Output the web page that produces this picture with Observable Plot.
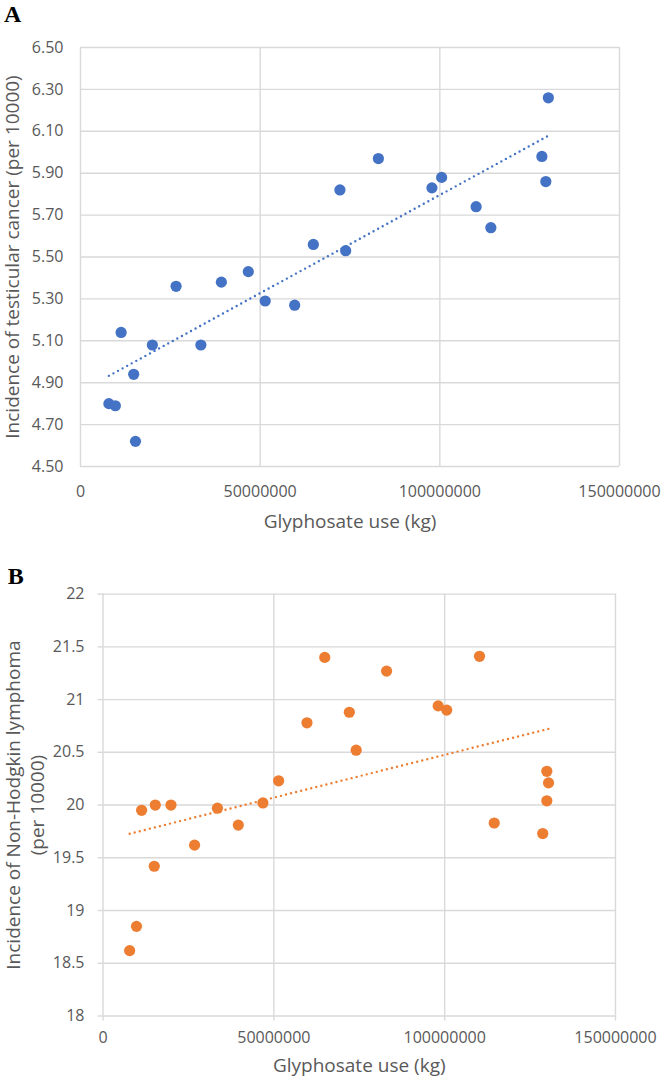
<!DOCTYPE html>
<html>
<head>
<meta charset="utf-8">
<script src="https://cdn.jsdelivr.net/npm/d3@7"></script>
<script src="https://cdn.jsdelivr.net/npm/@observablehq/plot@0.6"></script>
<style>
  body { margin: 0; background: #fff; }
  #chart { width: 664px; }
  #chart svg { display: block; }
</style>
</head>
<body>
<div id="chart"></div>
<script>
// Panel A: glyphosate use (kg) vs incidence of testicular cancer (per 10000)
const glyphosateA = [7.9e6, 9.7e6, 11.3e6, 14.8e6, 15.3e6, 20.0e6, 26.6e6, 33.5e6, 39.2e6, 46.7e6, 51.4e6, 59.6e6,
  64.8e6, 72.2e6, 73.8e6, 82.9e6, 97.8e6, 100.5e6, 110.1e6, 114.2e6, 128.4e6, 129.5e6, 130.2e6];
const testicular = [4.80, 4.79, 5.14, 4.94, 4.62, 5.08, 5.36, 5.08, 5.38, 5.43, 5.29, 5.27,
  5.56, 5.82, 5.53, 5.97, 5.83, 5.88, 5.74, 5.64, 5.98, 5.86, 6.26];

// Panel B: glyphosate use (kg) vs incidence of Non-Hodgkin lymphoma (per 10000)
const glyphosateB = [7.8e6, 9.8e6, 11.3e6, 15.0e6, 15.3e6, 19.9e6, 26.8e6, 33.5e6, 39.6e6, 46.8e6, 51.4e6, 59.7e6,
  64.9e6, 72.1e6, 74.1e6, 83.0e6, 98.1e6, 100.6e6, 110.2e6, 114.5e6, 128.7e6, 129.9e6, 129.9e6, 130.4e6];
const lymphoma = [18.62, 18.85, 19.95, 19.42, 20.00, 20.00, 19.62, 19.97, 19.81, 20.02, 20.23, 20.78,
  21.40, 20.88, 20.52, 21.27, 20.94, 20.90, 21.41, 19.83, 19.73, 20.04, 20.32, 20.21];

// Tick values
const xTicks = [0, 50000000, 100000000, 150000000];
const yTicksA = [4.5, 4.7, 4.9, 5.1, 5.3, 5.5, 5.7, 5.9, 6.1, 6.3, 6.5];
const yTicksB = [18, 18.5, 19, 19.5, 20, 20.5, 21, 21.5, 22];

// Labels
const panelLabels = ["A", "B"];
const xTitle = "Glyphosate use (kg)";
const yTitleA = "Incidence of testicular cancer (per 10000)";
const yTitleB = "Incidence of Non-Hodgkin lymphoma\n(per 10000)";

const dataA = glyphosateA.map((x, i) => ({x, y: testicular[i]}));
const dataB = glyphosateB.map((x, i) => ({x, y: lymphoma[i]}));

const font = "'Open Sans', 'DejaVu Sans', sans-serif";
const serif = "'Liberation Serif', 'DejaVu Serif', serif";
const textGray = "#595959";
const gridGray = "#d9d9d9";
const blue = "#4472C4";
const orange = "#ED7D31";
const fmtX = d3.format("d");

const plotA = Plot.plot({
  width: 664,
  height: 535,
  marginTop: 47,
  marginRight: 45,
  marginBottom: 69,
  marginLeft: 80,
  style: {fontFamily: font, background: "#fff"},
  x: {domain: [0, 150000000]},
  y: {domain: [4.5, 6.5]},
  marks: [
    Plot.gridX(xTicks, {stroke: gridGray, strokeOpacity: 1, strokeWidth: 1.4}),
    Plot.gridY(yTicksA, {stroke: gridGray, strokeOpacity: 1, strokeWidth: 1.4}),
    Plot.axisX(xTicks, {tickSize: 0, tickPadding: 19, tickFormat: fmtX, fill: textGray, fontSize: 16, label: null}),
    Plot.axisY(yTicksA, {tickSize: 0, tickPadding: 17, tickFormat: d3.format(".2f"), fill: textGray, fontSize: 16, label: null}),
    Plot.linearRegressionY(dataA, {x: "x", y: "y", ci: 0, stroke: blue, strokeWidth: 2.4,
      strokeDasharray: "0 5.2", strokeLinecap: "round"}),
    Plot.dot(dataA, {x: "x", y: "y", r: 5.6, fill: blue}),
    Plot.text([xTitle], {frameAnchor: "bottom", lineAnchor: "middle", dy: 55, fontSize: 19, fill: textGray}),
    Plot.text([yTitleA], {frameAnchor: "left", rotate: -90, textAnchor: "middle", lineAnchor: "middle",
      dx: -67.5, fontSize: 19, fill: textGray}),
    Plot.text([panelLabels[0]], {frameAnchor: "top-left", textAnchor: "start", lineAnchor: "bottom",
      dx: -76.5, dy: -26, fontSize: 24, fontWeight: "bold", fontFamily: serif, fill: "#000"})
  ]
});

const plotB = Plot.plot({
  width: 664,
  height: 544,
  marginTop: 58.6,
  marginRight: 49,
  marginBottom: 63.5,
  marginLeft: 102.5,
  style: {fontFamily: font, background: "#fff"},
  x: {domain: [0, 150000000]},
  y: {domain: [18, 22]},
  marks: [
    Plot.gridX(xTicks, {stroke: gridGray, strokeOpacity: 1, strokeWidth: 1.4}),
    Plot.gridY(yTicksB, {stroke: gridGray, strokeOpacity: 1, strokeWidth: 1.4}),
    Plot.axisX(xTicks, {tickSize: 5, tickPadding: 11, tickFormat: fmtX, stroke: gridGray, strokeWidth: 1.4,
      fill: textGray, fontSize: 16, label: null}),
    Plot.axisY(yTicksB, {tickSize: 5, tickPadding: 13.5, tickFormat: d => String(d), stroke: gridGray, strokeWidth: 1.4,
      fill: textGray, fontSize: 16, label: null}),
    Plot.linearRegressionY(dataB, {x: "x", y: "y", ci: 0, stroke: orange, strokeWidth: 2.4,
      strokeDasharray: "0 5.2", strokeLinecap: "round"}),
    Plot.dot(dataB, {x: "x", y: "y", r: 5.6, fill: orange}),
    Plot.text([xTitle], {frameAnchor: "bottom", lineAnchor: "middle", dy: 49.5, fontSize: 19, fill: textGray}),
    Plot.text([yTitleB], {frameAnchor: "left", rotate: -90, textAnchor: "middle", lineAnchor: "middle", lineHeight: 1.3,
      dx: -79, fontSize: 19, fill: textGray}),
    Plot.text([panelLabels[1]], {frameAnchor: "top-left", textAnchor: "start", lineAnchor: "bottom",
      dx: -95.2, dy: -10.3, fontSize: 24, fontWeight: "bold", fontFamily: serif, fill: "#000"})
  ]
});

const chart = document.getElementById("chart");
chart.appendChild(plotA);
chart.appendChild(plotB);
</script>
</body>
</html>
